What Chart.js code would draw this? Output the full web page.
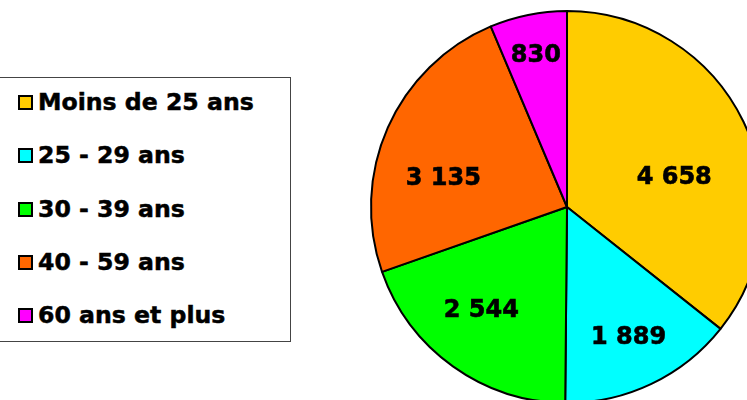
<!DOCTYPE html>
<html>
<head>
<meta charset="utf-8">
<script src="https://cdn.jsdelivr.net/npm/chart.js@4.4.0/dist/chart.umd.min.js"></script>
<style>
  html, body { margin: 0; padding: 0; background: #fff; overflow: hidden; width: 747px; height: 400px; }
  #wrap { position: absolute; left: 367px; top: 7px; width: 400px; height: 400px; }
  #legend { position: absolute; left: -1px; top: 77px; width: 292px; height: 265px; border: 1px solid #444; box-sizing: border-box; background: #fff; }
  .item { position: absolute; left: 0; height: 30px; line-height: 30px; font: bold 23.6px "DejaVu Sans", Verdana, sans-serif; color: #000; white-space: nowrap; -webkit-text-stroke: 0.5px #000; }
  .item .box { position: absolute; left: 18px; top: 7px; width: 11px; height: 11px; border: 2px solid #000; -webkit-text-stroke: 0; }
  .item .txt { position: absolute; left: 38px; top: 0; }
</style>
</head>
<body>
<div id="legend"></div>
<div id="wrap"><canvas id="pie"></canvas></div>
<script>
// données
const labels = ['Moins de 25 ans', '25 - 29 ans', '30 - 39 ans', '40 - 59 ans', '60 ans et plus'];
const values = [4658, 1889, 2544, 3135, 830];
const colors = ['#FFCC00', '#00FFFF', '#00FF00', '#FF6600', '#FF00FF'];

// placement des étiquettes (fraction du rayon, décalage d'angle en degrés)
const labelRadius = [0.57, 0.73, 0.68, 0.65, 0.80];
const labelShift = [9.5, 0, 4.4, -10, 0];

function fmt(v) {
    return String(v).replace(/\B(?=(\d{3})+(?!\d))/g, ' ');
}

// légende
const legend = document.getElementById('legend');
labels.forEach((l, i) => {
    const row = document.createElement('div');
    row.className = 'item';
    row.style.top = (103 - 78 + i * 53.25 - 15) + 'px';
    row.innerHTML = '<span class="box" style="background:' + colors[i] + '"></span><span class="txt">' + l + '</span>';
    legend.appendChild(row);
});

// étiquettes des valeurs
const valueLabels = {
    id: 'valueLabels',
    afterDatasetsDraw(chart) {
        const ctx = chart.ctx;
        const meta = chart.getDatasetMeta(0);
        ctx.save();
        ctx.font = 'bold 24px "DejaVu Sans", Verdana, sans-serif';
        ctx.fillStyle = '#000';
        ctx.strokeStyle = '#000';
        ctx.lineWidth = 0.6;
        ctx.textAlign = 'center';
        ctx.textBaseline = 'middle';
        meta.data.forEach((arc, i) => {
            const mid = (arc.startAngle + arc.endAngle) / 2 + labelShift[i] * Math.PI / 180;
            const r = arc.outerRadius * labelRadius[i];
            const x = arc.x + Math.cos(mid) * r;
            const y = arc.y + Math.sin(mid) * r + 2;
            ctx.fillText(fmt(values[i]), x, y);
            ctx.strokeText(fmt(values[i]), x, y);
        });
        ctx.restore();
    }
};

new Chart(document.getElementById('pie'), {
    type: 'pie',
    data: {
        labels: labels,
        datasets: [{
            data: values,
            backgroundColor: colors,
            borderColor: '#000',
            borderWidth: 2
        }]
    },
    options: {
        responsive: true,
        maintainAspectRatio: false,
        animation: false,
        radius: 196,
        layout: { padding: 0 },
        plugins: {
            legend: { display: false },
            tooltip: { enabled: false }
        }
    },
    plugins: [valueLabels]
});
</script>
</body>
</html>
